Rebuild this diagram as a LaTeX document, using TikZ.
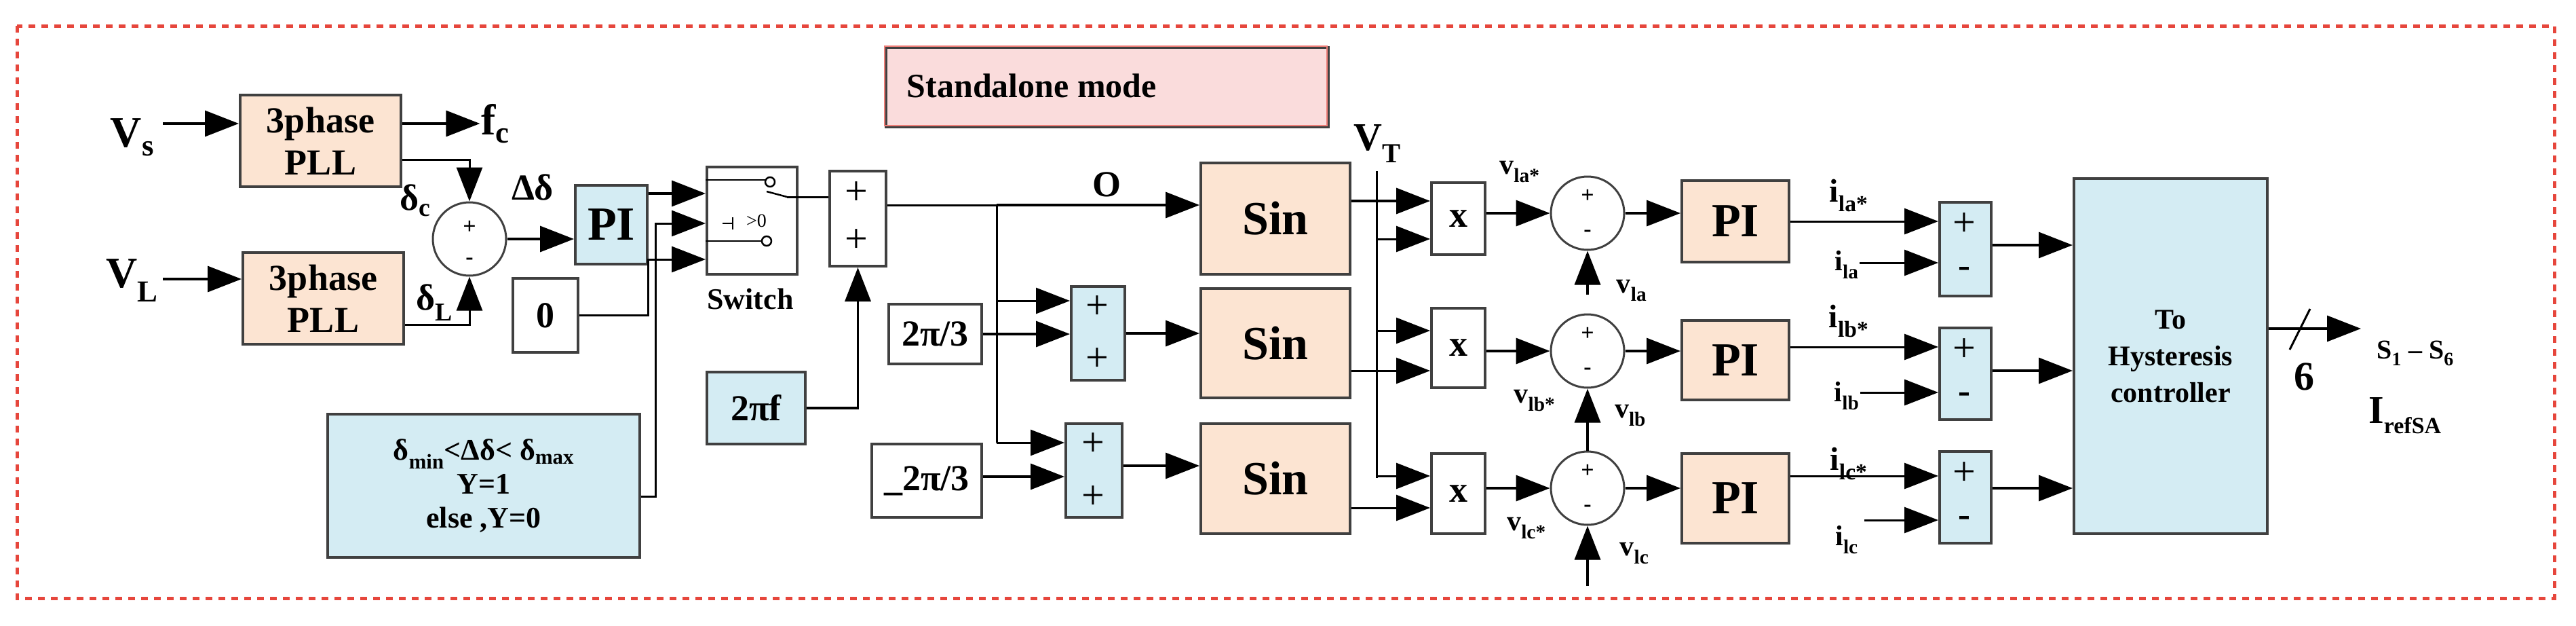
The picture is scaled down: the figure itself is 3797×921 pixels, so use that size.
\documentclass[tikz,border=0pt]{standalone}
\usepackage{fontspec}
\setmainfont{Liberation Serif}
\usetikzlibrary{arrows.meta}
\definecolor{peach}{RGB}{252,228,210}
\definecolor{lblue}{RGB}{212,236,243}
\definecolor{pinkb}{RGB}{250,220,220}
\definecolor{dred}{RGB}{230,70,60}
\begin{document}
\begin{tikzpicture}[x=1pt,y=-1pt,
 line width=3.5pt,
 >={Triangle[length=50pt,width=38pt]},
 lab/.style={font=\bfseries\fontsize{54}{60}\selectfont,inner sep=0pt},
 big/.style={font=\bfseries\fontsize{70}{74}\selectfont},
 sm/.style={font=\bfseries\fontsize{34}{36}\selectfont,inner sep=0pt},
 circ/.style={draw=black!75,line width=3pt,circle,minimum size=108pt,inner sep=0pt}]
\useasboundingbox (0,0) rectangle (3797,921);
\draw[dred,dash pattern=on 10pt off 9pt,line width=5pt] (25,38) rectangle (3765,881);
% boxes
\newcommand{\bx}[6]{\node[draw=black!75,line width=4pt,fill=#2,minimum width=#5pt,minimum height=#6pt,inner sep=0pt,anchor=north west,align=center,lab] (#1) at (#3,#4) {};}
\bx{pll1}{peach}{352}{138}{237}{135}
\node[lab,align=center] at (pll1) {3phase\\[2pt]PLL};
\bx{pll2}{peach}{356}{370}{237}{135}
\node[lab,align=center] at (pll2) {3phase\\[2pt]PLL};
\bx{pi0}{lblue}{846}{271}{106}{116}
\node[big] at (pi0) {PI};
\bx{zero}{white}{754}{408}{96}{109}
\node[lab] at (zero) {0};
\bx{sw}{white}{1040}{244}{133}{158}
\node[lab,font=\bfseries\fontsize{44}{44}\selectfont] (swl) at (1106,440) {Switch};
\bx{sum0}{white}{1221}{250}{83}{140}
\node[lab,font=\fontsize{60}{60}\selectfont] at (1262,285) {+};
\node[lab,font=\fontsize{60}{60}\selectfont] at (1262,355) {+};
\bx{twopif}{lblue}{1040}{546}{145}{106}
\node[lab] at (twopif) {2πf};
\bx{cond}{lblue}{481}{608}{460}{211}
\node[lab,align=center,font=\bfseries\fontsize{44}{50}\selectfont] at (cond) {δ\textsubscript{min}<Δδ< δ\textsubscript{max}\\Y=1\\else ,Y=0};
\bx{sa}{pinkb}{1304}{68}{652}{117}
\node[lab,anchor=west,draw=none,font=\bfseries\fontsize{50}{50}\selectfont] at (1335,126) {Standalone mode};
\draw[dred!70,line width=2pt] (1304,68) rectangle (1956,185);
\bx{tpb}{white}{1308}{446}{137}{88}
\node[lab] at (tpb) {2π/3};
\bx{tpc}{white}{1283}{652}{162}{108}
\node[lab] at (tpc) {\_2π/3};
\bx{sb}{lblue}{1577}{420}{79}{138}
\bx{sc}{lblue}{1569}{622}{83}{138}
\foreach \n/\x/\y in {sb/1617/453,sb/1617/530,sc/1611/655,sc/1611/733}
  \node[lab,font=\fontsize{60}{60}\selectfont] at (\x,\y) {+};
\bx{sina}{peach}{1768}{238}{220}{164}
\bx{sinb}{peach}{1768}{423}{220}{161}
\bx{sinc}{peach}{1768}{622}{220}{162}
\foreach \n in {sina,sinb,sinc} \node[big] at (\n) {Sin};
\bx{xa}{white}{2108}{267}{79}{106}
\bx{xb}{white}{2108}{452}{79}{117}
\bx{xc}{white}{2108}{666}{79}{118}
\foreach \n in {xa,xb,xc} \node[lab] at (\n) {x};
\node[circ] (ca) at (2340,314) {};
\node[circ] (cb) at (2340,517) {};
\node[circ] (cc) at (2340,719) {};
\bx{pia}{peach}{2477}{264}{158}{120}
\bx{pib}{peach}{2477}{470}{158}{117}
\bx{pic}{peach}{2477}{666}{158}{132}
\foreach \n in {pia,pib,pic} \node[big] at (\n) {PI};
\bx{da}{lblue}{2857}{296}{76}{138}
\bx{db}{lblue}{2857}{481}{76}{135}
\bx{dc}{lblue}{2857}{663}{76}{135}
\foreach \n/\y in {da/296,db/481,dc/663}{
  \node[lab,font=\fontsize{60}{60}\selectfont] at (2895,\y+35) {+};
  \node[lab] at (2895,\y+105) {-};}
\bx{hys}{lblue}{3055}{261}{285}{523}
\node[lab,align=center,font=\bfseries\fontsize{42}{54}\selectfont] at (hys) {To\\Hysteresis\\controller};
% PLL circle
\node[circ] (c0) at (692,352) {};
\node[sm] at (692,335) {+};
\node[sm] at (692,385) {-};
\foreach \c in {ca,cb,cc}{\node[sm] at ([yshift=25pt]\c.center) {+};\node[sm] at ([yshift=-30pt]\c.center) {-};}
% labels
\node[lab,font=\bfseries\fontsize{64}{64}\selectfont] (lvs) at (195,202) {V\textsubscript{s}};
\node[lab,font=\bfseries\fontsize{64}{64}\selectfont] (lvl) at (195,413) {V\textsubscript{L}};
\node[lab,font=\bfseries\fontsize{64}{64}\selectfont] (lfc) at (730,182) {f\textsubscript{c}};
\node[lab] at (612,295) {δ\textsubscript{c}};
\node[lab] at (640,446) {δ\textsubscript{L}};
\node[lab] at (785,276) {Δδ};
\node[lab] at (1631,272) {O};
\node[lab,font=\bfseries\fontsize{58}{58}\selectfont] at (2030,212) {V\textsubscript{T}};
\node[lab,font=\bfseries\fontsize{42}{42}\selectfont] at (2240,253) {v\textsubscript{la*}};
\node[lab,font=\bfseries\fontsize{42}{42}\selectfont] at (2405,428) {v\textsubscript{la}};
\node[lab,font=\bfseries\fontsize{42}{42}\selectfont] at (2262,590) {v\textsubscript{lb*}};
\node[lab,font=\bfseries\fontsize{42}{42}\selectfont] at (2403,612) {v\textsubscript{lb}};
\node[lab,font=\bfseries\fontsize{42}{42}\selectfont] at (2250,778) {v\textsubscript{lc*}};
\node[lab,font=\bfseries\fontsize{42}{42}\selectfont] at (2409,815) {v\textsubscript{lc}};
\node[lab,font=\bfseries\fontsize{48}{48}\selectfont] at (2725,288) {i\textsubscript{la*}};
\node[lab,font=\bfseries\fontsize{48}{48}\selectfont] at (2725,473) {i\textsubscript{lb*}};
\node[lab,font=\bfseries\fontsize{48}{48}\selectfont] at (2725,683) {i\textsubscript{lc*}};
\node[lab,font=\bfseries\fontsize{42}{42}\selectfont] (ila) at (2722,390) {i\textsubscript{la}};
\node[lab,font=\bfseries\fontsize{42}{42}\selectfont] (ilb) at (2722,583) {i\textsubscript{lb}};
\node[lab,font=\bfseries\fontsize{42}{42}\selectfont] (ilc) at (2722,795) {i\textsubscript{lc}};
\node[lab,font=\bfseries\fontsize{60}{60}\selectfont] at (3396,555) {6};
\node[lab,font=\bfseries\fontsize{40}{40}\selectfont] at (3560,520) {S\textsubscript{1} – S\textsubscript{6}};
\node[lab,font=\bfseries\fontsize{58}{58}\selectfont] at (3545,612) {I\textsubscript{\fontsize{34}{34}\selectfont refSA}};
% coordinates
\coordinate (vsin) at (240,182);
\coordinate (vlin) at (240,411);
\coordinate (jv) at (1469,302);
\coordinate (jt) at (2029,252);
\coordinate (outS) at (3480,484);
\coordinate (vcb) at (2340,863);
\coordinate (vab) at (2340,434);
\coordinate (ilcs) at (2748,766);
% connectors left
\draw[->] (vsin) -- (vsin -| pll1.west);
\draw[->] (vlin) -- (vlin -| pll2.west);
\draw[->] (pll1.east |- 0,182) -- (lfc.west);
\draw[->,line width=3pt] (pll1.east |- 0,235) -| (c0.north);
\draw[->,line width=3pt] (pll2.east |- 0,478) -| (c0.south);
\draw[->] (c0.east) -- (pi0.west |- c0.east);
\draw[->] (pi0.east |- 0,285) -- (sw.west |- 0,285);
\draw[->,line width=3pt] (cond.east |- 0,731) -- (966,731) |- (sw.west |- 0,329);
\draw[->,line width=3pt] (zero.east |- 0,464) -- (955,464) |- (sw.west |- 0,382);
% switch internals
\draw[line width=2.5pt] (1040,265) -- (1130,265);
\draw[line width=2.5pt] (1130,282) -- (1160,290);
\draw[line width=2.5pt] (1040,355) -- (1125,355);
\draw[line width=2.5pt] (1065,329) -- (1080,329);
\draw[line width=2.5pt] (1080,320) -- (1080,338);
\node[sm,font=\fontsize{28}{28}\selectfont] at (1115,325) {>0};
\draw[line width=2.5pt,fill=white] (1135,268) circle (7pt) (1130,355) circle (7pt);
\draw[line width=3pt] (1160,290) -- (sum0.west |- 0,290);
\draw[->] (twopif.east) -| (sum0.south);
\draw[line width=3pt] (sum0.east |- 0,302) -- (jv);
\draw[->] (jv) -- (sina.west |- jv);
\draw[line width=3pt] (jv) -- (1469,652);
\draw[->,line width=3pt] (1469,443) -- (sb.west |- 0,443);
\draw[->] (tpb.east) -- (sb.west |- tpb.east);
\draw[->,line width=3pt] (1469,652) -- (sc.west |- 0,652);
\draw[->] (tpc.east |- 0,702) -- (sc.west |- 0,702);
\draw[->] (sb.east) -- (sinb.west |- sb.east);
\draw[->] (sc.east |- 0,686) -- (sinc.west |- 0,686);
% V_T
\draw[line width=3pt] (jt) -- (2029,704);
\draw[->] (sina.east |- 0,296) -- (xa.west |- 0,296);
\draw[->,line width=3pt] (2029,352) -- (xa.west |- 0,352);
\draw[->,line width=3pt] (2029,487) -- (xb.west |- 0,487);
\draw[->,line width=3pt] (sinb.east |- 0,546) -- (xb.west |- 0,546);
\draw[->,line width=3pt] (2029,701) -- (xc.west |- 0,701);
\draw[->,line width=3pt] (sinc.east |- 0,748) -- (xc.west |- 0,748);
\foreach \i in {a,b,c}{
  \draw[->] (x\i.east |- c\i.west) -- (c\i.west);
  \draw[->] (c\i.east) -- (pi\i.west |- c\i.east);}
\draw[->] (vab) -- (ca.south);
\draw[->] (cc.north) -- (cb.south);
\draw[->] (vcb) -- (cc.south);
% current loops
\draw[->,line width=3pt] (pia.east |- 0,326) -- (da.west |- 0,326);
\draw[->,line width=3pt] (pib.east |- 0,511) -- (db.west |- 0,511);
\draw[->,line width=3pt] (pic.east |- 0,701) -- (dc.west |- 0,701);
\draw[->,line width=3pt] (ila.east |- 0,387) -- (da.west |- 0,387);
\draw[->,line width=3pt] (ilb.east |- 0,578) -- (db.west |- 0,578);
\draw[->,line width=3pt] (ilcs) -- (dc.west |- ilcs);
\draw[->] (da.east |- 0,361) -- (hys.west |- 0,361);
\draw[->] (db.east |- 0,546) -- (hys.west |- 0,546);
\draw[->] (dc.east |- 0,719) -- (hys.west |- 0,719);
\draw[->] (hys.east |- outS) -- (outS);
\draw[line width=3pt] (3375,515) -- (3405,455);
\end{tikzpicture}
\end{document}
